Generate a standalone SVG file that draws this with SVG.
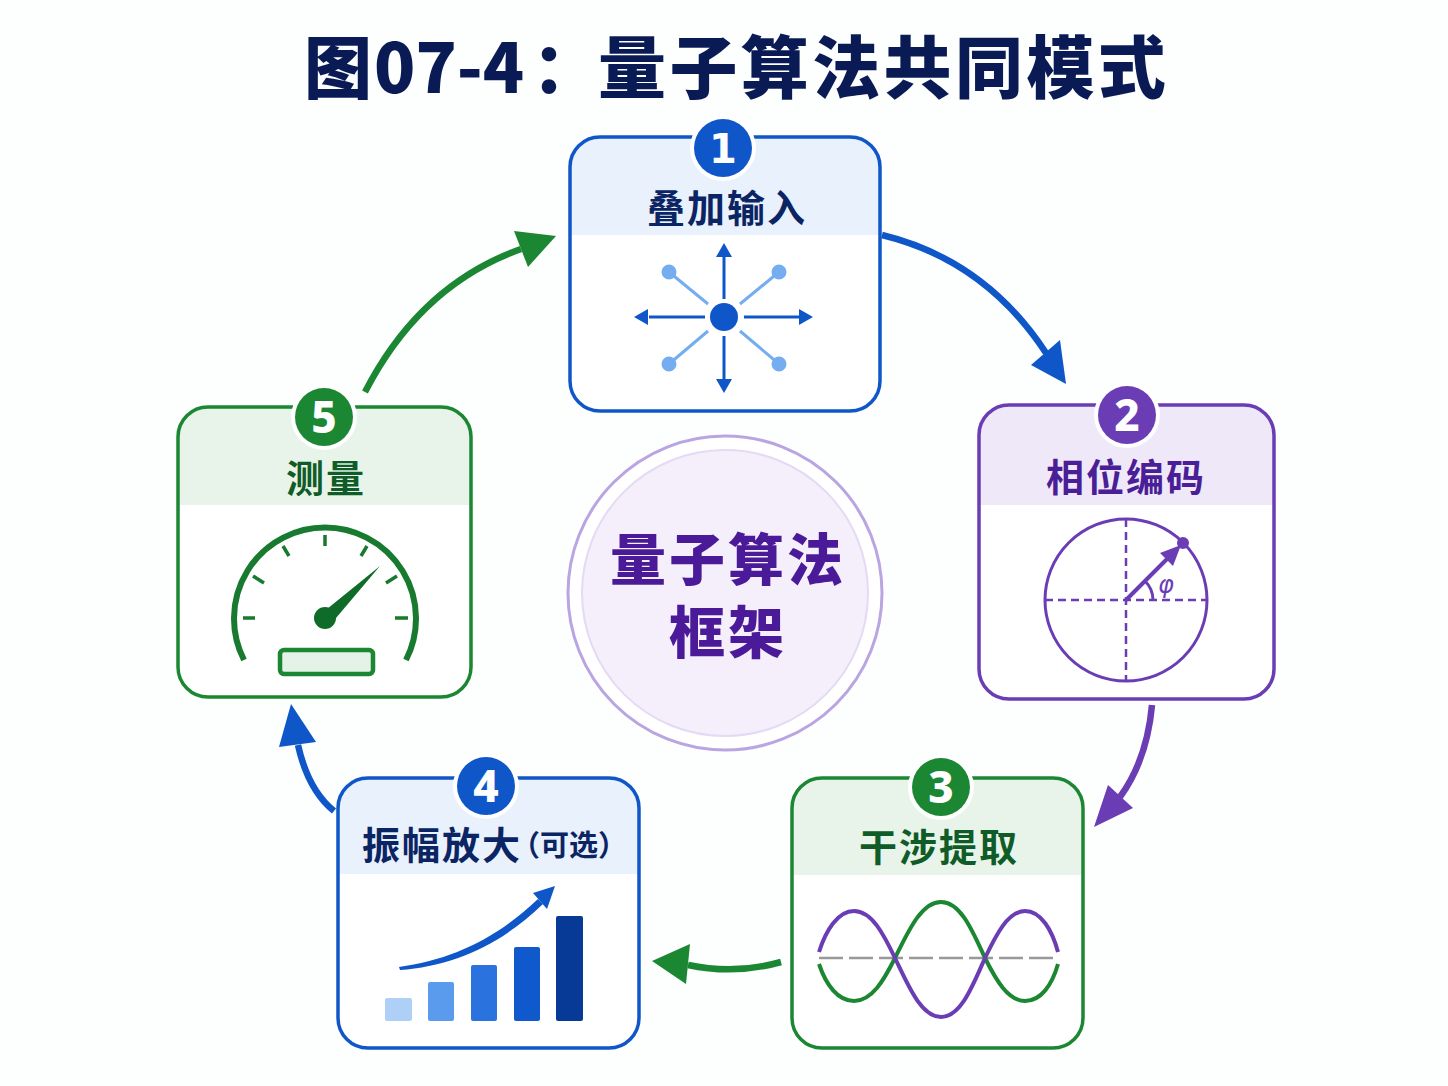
<svg xmlns="http://www.w3.org/2000/svg" width="1448" height="1086" viewBox="0 0 1448 1086">
<style>
text{font-family:"Noto Sans CJK SC","Noto Sans",sans-serif;font-weight:700;text-anchor:middle}
.lbl{font-size:38px;letter-spacing:2px;font-weight:700}
.num{font-size:44px;fill:#fff;font-family:"Noto Sans","Noto Sans CJK SC",sans-serif;font-weight:800}
.box{fill:none;stroke-width:3.5}
.halo{fill:#fff;stroke:#fff;stroke-width:8}
.blue{stroke:#0f57c8}.purple{stroke:#6b3db5}.green{stroke:#1b8733}
.f-blue{fill:#0f57c8}.f-purple{fill:#6b3db5}.f-green{fill:#1b8733}
.conn{fill:none;stroke-width:6.5;stroke-linecap:butt}
.thin{fill:none;stroke-width:3}
</style>
<rect width="1448" height="1086" fill="#fdfefe"/>
<text id="title" y="93" font-size="68" fill="#0a1a55" style="text-anchor:start;font-weight:900"><tspan x="304">图</tspan><tspan x="374">07-4</tspan><tspan x="532">：</tspan><tspan x="598" letter-spacing="3.4">量子算法共同模式</tspan></text>

<g id="connectors">
<path class="conn blue" d="M882,235Q985,260 1046,353"/><path class="f-blue" d="M1066,384L1031,365L1060,340z"/>
<path class="conn purple" d="M1152,705Q1147,760 1120,797"/><path class="f-purple" d="M1094,827L1108,785L1133,808z"/>
<path class="conn green" d="M781,962Q735,975 688,965"/><path class="f-green" d="M652,961L690,944L686,984z"/>
<path class="conn blue" d="M334,811Q308,790 298,745"/><path class="f-blue" d="M291,704L279,747L316,742z"/>
<path class="conn green" d="M365,392Q420,285 521,249"/><path class="f-green" d="M556,236L514,231L528,267z"/>
</g>

<g id="center">
<circle cx="725" cy="593" r="157" fill="#fff" stroke="#b9a5e2" stroke-width="3"/>
<circle cx="725" cy="593" r="143" fill="#f4effb" stroke="#e3daf4" stroke-width="2"/>
<text x="728" y="580" font-size="56" letter-spacing="3" fill="#4a1a98" style="font-weight:900">量子算法</text>
<text x="728" y="653" font-size="56" letter-spacing="3" fill="#4a1a98" style="font-weight:900">框架</text>
</g>

<g id="node1">
<rect x="570" y="137" width="310" height="274" rx="30" fill="#fff"/>
<path d="M570,235V167a30,30 0 0 1 30,-30H850a30,30 0 0 1 30,30V235z" fill="#e8f1fc"/>
<rect class="box blue" x="570" y="137" width="310" height="274" rx="30"/>
<circle class="halo" cx="723" cy="148" r="29"/><circle class="f-blue" cx="723" cy="148" r="29"/>
<text class="num" x="723" y="163" style="font-family:'DejaVu Sans',sans-serif;font-size:40px;font-weight:700">1</text>
<text class="lbl" x="727" y="222" fill="#0b2463">叠加输入</text>
<g stroke="#0f57c8" stroke-width="3">
<path d="M724,299V257M724,336V379M705,317H649M744,317H799"/>
</g>
<path class="f-blue" d="M724,243l8,14h-16zM724,393l8,-14h-16zM634,317l14,-8v16zM813,317l-14,-8v16z"/>
<circle class="f-blue" cx="724" cy="317" r="14"/>
<g fill="#74aef0" stroke="#74aef0" stroke-width="3">
<path d="M669,272L708,304M779,272L740,304M669,364L708,331M779,364L740,331"/>
<circle cx="669" cy="272" r="6"/><circle cx="779" cy="272" r="6"/><circle cx="669" cy="364" r="6"/><circle cx="779" cy="364" r="6"/>
</g>
</g>

<g id="node2">
<rect x="979" y="405" width="295" height="294" rx="30" fill="#fff"/>
<path d="M979,505V435a30,30 0 0 1 30,-30H1244a30,30 0 0 1 30,30V505z" fill="#efe8f9"/>
<rect class="box purple" x="979" y="405" width="295" height="294" rx="30"/>
<circle class="halo" cx="1127" cy="415" r="29"/><circle class="f-purple" cx="1127" cy="415" r="29"/>
<text class="num" x="1127" y="431">2</text>
<text class="lbl" x="1126" y="491" fill="#4a1e96">相位编码</text>
<circle class="thin purple" cx="1126" cy="600" r="81"/>
<path class="purple" fill="none" stroke-width="2.5" stroke-dasharray="8 5" d="M1126,519V681M1045,600H1207"/>
<path class="purple" stroke-width="4" d="M1126,600L1170,556"/>
<path class="f-purple" d="M1181,545L1173,566L1160,553z"/>
<circle class="f-purple" cx="1183" cy="543" r="6"/>
<path class="thin purple" d="M1153,600A27,27 0 0 0 1145,581"/>
<text x="1166" y="593" font-size="24" fill="#6b3db5" style="font-family:'DejaVu Sans',sans-serif;font-style:italic;font-weight:400">φ</text>
</g>

<g id="node3">
<rect x="792" y="778" width="291" height="270" rx="30" fill="#fff"/>
<path d="M792,875V808a30,30 0 0 1 30,-30H1053a30,30 0 0 1 30,30V875z" fill="#e8f4ea"/>
<rect class="box green" x="792" y="778" width="291" height="270" rx="30"/>
<circle class="halo" cx="941" cy="787" r="29"/><circle class="f-green" cx="941" cy="787" r="29"/>
<text class="num" x="941" y="803">3</text>
<text class="lbl" x="939" y="861" fill="#0f5c28">干涉提取</text>
<path fill="none" stroke="#999" stroke-width="2.5" stroke-dasharray="24 6" d="M819,958H1058"/>
<path fill="none" stroke="#1b8733" stroke-width="4" d="M819,964C826,985 838,1001 854,1001C872,1001 884,980 895,958C908,932 921,902 941,902C961,902 973,932 985,958C996,980 1008,1001 1025,1001C1041,1001 1052,985 1058,964"/>
<path fill="none" stroke="#6b3db5" stroke-width="4" d="M819,952C826,930 838,911 854,911C872,911 884,935 895,958C908,985 921,1017 941,1017C961,1017 973,985 985,958C996,935 1008,911 1025,911C1041,911 1052,930 1058,952"/>
</g>

<g id="node4">
<rect x="338" y="778" width="301" height="270" rx="30" fill="#fff"/>
<path d="M338,874V808a30,30 0 0 1 30,-30H609a30,30 0 0 1 30,30V874z" fill="#e8f1fc"/>
<rect class="box blue" x="338" y="778" width="301" height="270" rx="30"/>
<circle class="halo" cx="486" cy="786" r="29"/><circle class="f-blue" cx="486" cy="786" r="29"/>
<text class="num" x="486" y="802">4</text>
<text class="lbl" x="442" y="859" fill="#0b2463">振幅放大</text>
<text x="569" y="856" font-size="29" fill="#0b2463">（可选）</text>
<rect x="385" y="998" width="27" height="23" rx="2" fill="#aed0f7"/>
<rect x="428" y="982" width="26" height="39" rx="2" fill="#5a9bee"/>
<rect x="471" y="965" width="26" height="56" rx="2" fill="#2a72de"/>
<rect x="514" y="947" width="26" height="74" rx="2" fill="#1059cc"/>
<rect x="556" y="916" width="27" height="105" rx="2" fill="#063a96"/>
<path class="f-blue" d="M399,967C450,960 495,940 538,899L543,904C498,947 452,966 400,970z"/>
<path class="f-blue" d="M555,886L533,893L547,909z"/>
</g>

<g id="node5">
<rect x="178" y="407" width="293" height="290" rx="30" fill="#fff"/>
<path d="M178,505V437a30,30 0 0 1 30,-30H441a30,30 0 0 1 30,30V505z" fill="#e8f4ea"/>
<rect class="box green" x="178" y="407" width="293" height="290" rx="30"/>
<circle class="halo" cx="324" cy="417" r="29"/><circle class="f-green" cx="324" cy="417" r="29"/>
<text class="num" x="324" y="433">5</text>
<text class="lbl" x="326" y="492" fill="#0f5c28">测量</text>
<path fill="none" stroke="#177a2e" stroke-width="6" d="M244,660A91,91 0 1 1 406,660"/>
<path stroke="#177a2e" stroke-width="3.5" d="M243,618H255M395,618H408M325,535V546M283,546L289,556M367,546L361,556M253,576L264,583M397,576L386,583"/>
<path d="M380,566L336,618L327,609z" fill="#0f6b28"/>
<circle cx="325" cy="618" r="11" fill="#0f6b28"/>
<rect x="280" y="650" width="93" height="24" rx="4" fill="#e4f2e7" stroke="#1b8733" stroke-width="4.5"/>
</g>
</svg>
